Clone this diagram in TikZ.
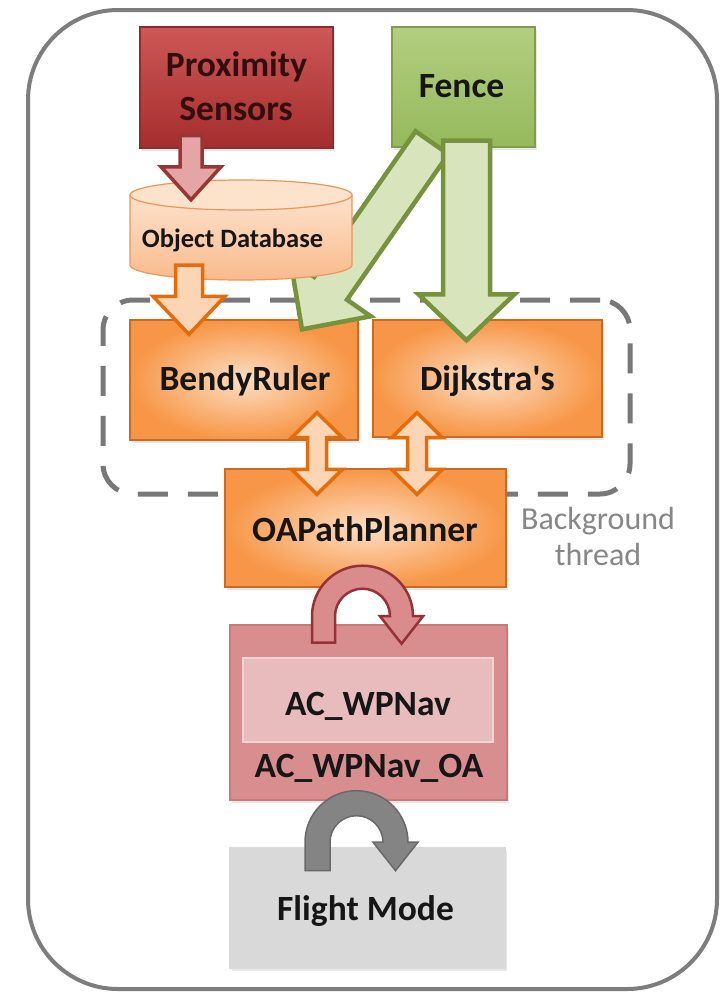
\documentclass[tikz,border=0pt]{standalone}
\usepackage{fontspec}
\setmainfont{Carlito}
\usetikzlibrary{calc,shadows}
\definecolor{frameGray}{RGB}{125,125,125}
\definecolor{proxTop}{RGB}{205,88,86}
\definecolor{proxBot}{RGB}{165,45,45}
\definecolor{proxLine}{RGB}{140,45,45}
\definecolor{proxText}{RGB}{50,15,15}
\definecolor{fenceTop}{RGB}{178,206,128}
\definecolor{fenceBot}{RGB}{150,185,92}
\definecolor{fenceLine}{RGB}{128,158,70}
\definecolor{orOuter}{RGB}{247,150,70}
\definecolor{orInner}{RGB}{253,222,195}
\definecolor{orLine}{RGB}{205,105,35}
\definecolor{cylTop}{RGB}{253,226,204}
\definecolor{cylBot}{RGB}{249,186,140}
\definecolor{cylLine}{RGB}{236,150,90}
\definecolor{oaFill}{RGB}{216,142,142}
\definecolor{oaLine}{RGB}{200,122,122}
\definecolor{wpFill}{RGB}{232,188,188}
\definecolor{wpLine}{RGB}{243,212,212}
\definecolor{fmFill}{RGB}{217,217,217}
\definecolor{grArrFill}{RGB}{215,228,188}
\definecolor{grArrLine}{RGB}{118,146,60}
\definecolor{orArrFill}{RGB}{252,213,181}
\definecolor{orArrLine}{RGB}{228,108,10}
\definecolor{pkArrFill}{RGB}{230,165,165}
\definecolor{pkArrLine}{RGB}{150,55,53}
\definecolor{rdArcFill}{RGB}{218,140,140}
\definecolor{rdArcLine}{RGB}{150,50,55}
\definecolor{gyArcFill}{RGB}{132,132,132}
\definecolor{gyArcLine}{RGB}{105,105,105}
\definecolor{txt}{RGB}{22,22,22}
\definecolor{bgText}{RGB}{135,135,135}
\definecolor{dashGray}{RGB}{120,120,120}

% block arrow: style, start, tip, half shaft, half head, head length
\newcommand\blockarrow[6]{%
  \coordinate (bac) at ($(#3)!#6!(#2)$);
  \path[#1] ($(#2)!#4!90:(#3)$) -- ($(bac)!#4!-90:(#2)$) -- ($(bac)!#5!-90:(#2)$) -- (#3)
    -- ($(bac)!#5!90:(#2)$) -- ($(bac)!#4!90:(#2)$) -- ($(#2)!#4!-90:(#3)$) -- cycle;
}
% double block arrow: style, tip1, tip2, half shaft, half head, head length
\newcommand\dblarrow[6]{%
  \coordinate (dac) at ($(#2)!#6!(#3)$);
  \coordinate (dad) at ($(#3)!#6!(#2)$);
  \path[#1] (#2) -- ($(dac)!#5!90:(#3)$) -- ($(dac)!#4!90:(#3)$) -- ($(dad)!#4!-90:(#2)$)
    -- ($(dad)!#5!-90:(#2)$) -- (#3) -- ($(dad)!#5!90:(#2)$) -- ($(dad)!#4!90:(#2)$)
    -- ($(dac)!#4!-90:(#3)$) -- ($(dac)!#5!-90:(#3)$) -- cycle;
}
% arch arrow: style, center, Ro, Ri, leg length, half head, tip depth
\newcommand\archarrow[7]{%
  \pgfmathsetmacro\aro{#3}\pgfmathsetmacro\ari{#4}%
  \pgfmathsetmacro\arm{(#3+#4)/2}%
  \pgfmathsetmacro\ako{0.5523*#3}\pgfmathsetmacro\aki{0.5523*#4}%
  \pgfmathsetmacro\awo{\arm+#6}\pgfmathsetmacro\awi{\arm-#6}%
  \begin{scope}[shift={(#2)}]
  \path[#1] (-\aro,#5) -- (-\aro,0) .. controls (-\aro,-\ako) and (-\ako,-\aro) .. (0,-\aro)
    .. controls (\ako,-\aro) and (\aro,-\ako) .. (\aro,0) -- (\awo,0) -- (\arm,#7) -- (\awi,0)
    -- (\ari,0) .. controls (\ari,-\aki) and (\aki,-\ari) .. (0,-\ari)
    .. controls (-\aki,-\ari) and (-\ari,-\aki) .. (-\ari,0) -- (-\ari,#5) -- cycle;
  \end{scope}
}

\begin{document}
\begin{tikzpicture}[x=1pt,y=-1pt,
  shd/.style={drop shadow={opacity=0.18, shadow xshift=2pt, shadow yshift=-3pt}},
  box/.style={rectangle, draw, inner sep=0pt, line width=1.4pt},
  orbox/.style={box, shd, draw=orLine, inner color=orInner, outer color=orOuter},
  lbl/.style={inner sep=0pt, text height=23pt, text depth=0pt, text=txt,
    font=\bfseries\fontsize{35.5}{40}\selectfont},
  grarr/.style={fill=grArrFill, draw=grArrLine, line width=4.5pt, line join=miter},
  orarr/.style={fill=orArrFill, draw=orArrLine, line width=3.5pt, line join=miter},
  pkarr/.style={fill=pkArrFill, draw=pkArrLine, line width=3.5pt, line join=miter},
  rdarc/.style={fill=rdArcFill, draw=rdArcLine, line width=2.5pt, line join=miter},
  gyarc/.style={fill=gyArcFill, draw=gyArcLine, line width=1.5pt, line join=miter}]
\useasboundingbox (0,0) rectangle (726,993);
\fill[white] (0,0) rectangle (726,993);

% outer frame
\draw[draw=frameGray, line width=4pt, rounded corners=90pt] (28,10) rectangle (717,989);

% background thread region
\node[draw=dashGray, line width=5pt, dash pattern=on 30pt off 20pt, rounded corners=30pt,
  minimum width=527pt, minimum height=194pt, inner sep=0pt] (bgreg) at (366.5,397) {};

% top sources
\node[box, shd, draw=proxLine, top color=proxTop, bottom color=proxBot,
  minimum width=193pt, minimum height=121pt] (prox) at (236.5,87.5) {};
\node[lbl, text=proxText] (proxT1) at (236.5,65) {Proximity};
\node[lbl, text=proxText] (proxT2) at (236,109) {Sensors};

\node[box, shd, draw=fenceLine, top color=fenceTop, bottom color=fenceBot,
  minimum width=143pt, minimum height=120pt] (fence) at (463.5,87) {};
\node[lbl] (fenceT) at (461.5,86) {Fence};

% planners
\node[orbox, minimum width=228pt, minimum height=120pt] (bendy) at (244,380) {};
\node[lbl] (bendyT) at (245,379) {BendyRuler};
\node[orbox, minimum width=229pt, minimum height=117pt] (dijk) at (487.5,378.5) {};
\node[lbl] (dijkT) at (487.5,379) {Dijkstra\textquotesingle s};
\node[orbox, minimum width=281pt, minimum height=118pt] (oap) at (365.5,528) {};
\node[lbl] (oapT) at (365,529.5) {OAPathPlanner};

\node[inner sep=0pt, text=bgText, align=center,
  font=\fontsize{32}{36}\selectfont] (bgT) at (598,537) {Background\\thread};

% Fence -> BendyRuler (diagonal, drawn under the database)
\blockarrow{grarr}{$(fence.south)+(-31.5,-5)$}{$(bendy.north)+(58,10)$}{20pt}{49pt}{50pt}
% Fence -> Dijkstra's
\blockarrow{grarr}{$(fence.south)+(3,-7)$}{$(dijk.north)+(-21,21)$}{23.5pt}{48pt}{46pt}

% object database (cylinder)
\node[inner sep=0pt, minimum width=222pt, minimum height=100pt] (db) at (241,230) {};
\begin{scope}[shift={(db.center)}]
  \path[top color=cylTop, bottom color=cylBot, draw=cylLine, line width=1.2pt]
    (-111,-35) -- (-111,35) .. controls (-111,43.3) and (-61.3,50) .. (0,50)
    .. controls (61.3,50) and (111,43.3) .. (111,35) -- (111,-35) -- cycle;
  \path[fill=cylTop, draw=cylLine, line width=1.2pt] (0,-35) ellipse [x radius=111, y radius=15];
\end{scope}
\node[lbl, text height=17pt, font=\bfseries\fontsize{26.5}{30}\selectfont] (dbT) at (232.5,238.5) {Object Database};

% Proximity -> database, database -> BendyRuler
\blockarrow{pkarr}{$(prox.south)+(-45.5,-13)$}{$(db.north)+(-50,20)$}{11pt}{30pt}{33pt}
\blockarrow{orarr}{$(db.south)+(-52,-15)$}{$(bendy.north)+(-55,15)$}{13.5pt}{36pt}{38pt}

% planners <-> OAPathPlanner
\dblarrow{orarr}{$(bendy.south)+(73,-28)$}{$(oap.north)+(-48.5,26)$}{9.5pt}{25.5pt}{25pt}
\dblarrow{orarr}{$(dijk.south)+(-70.5,-25)$}{$(oap.north)+(51.5,26)$}{9.5pt}{25.5pt}{25pt}

% AC_WPNav_OA
\node[box, shd, draw=oaLine, fill=oaFill, minimum width=277pt, minimum height=175pt] (oa) at (368.5,712.5) {};
\node[box, draw=wpLine, fill=wpFill, line width=1.2pt, minimum width=250pt, minimum height=84pt] (wp) at (368,700) {};
\node[lbl] (wpT) at (368,703.5) {AC\_WPNav};
\node[lbl] (oaT) at (369,766) {AC\_WPNav\_OA};

% OAPathPlanner -> AC_WPNav_OA
\coordinate (rdc) at ($(oap.south)+(-3,28.5)$);
\archarrow{rdarc}{rdc}{50.5}{27.5}{26.5}{21.5}{27.5}

% Flight mode
\node[box, shd, draw=fmFill, fill=fmFill, minimum width=275pt, minimum height=120pt] (fm) at (367.5,908) {};
\node[lbl] (fmT) at (365.5,909) {Flight Mode};

% AC_WPNav_OA -> Flight Mode
\coordinate (gyc) at ($(oa.south)+(-12,41.5)$);
\archarrow{gyarc}{gyc}{51.5}{26.5}{28.5}{22.5}{28.5}
\end{tikzpicture}
\end{document}
